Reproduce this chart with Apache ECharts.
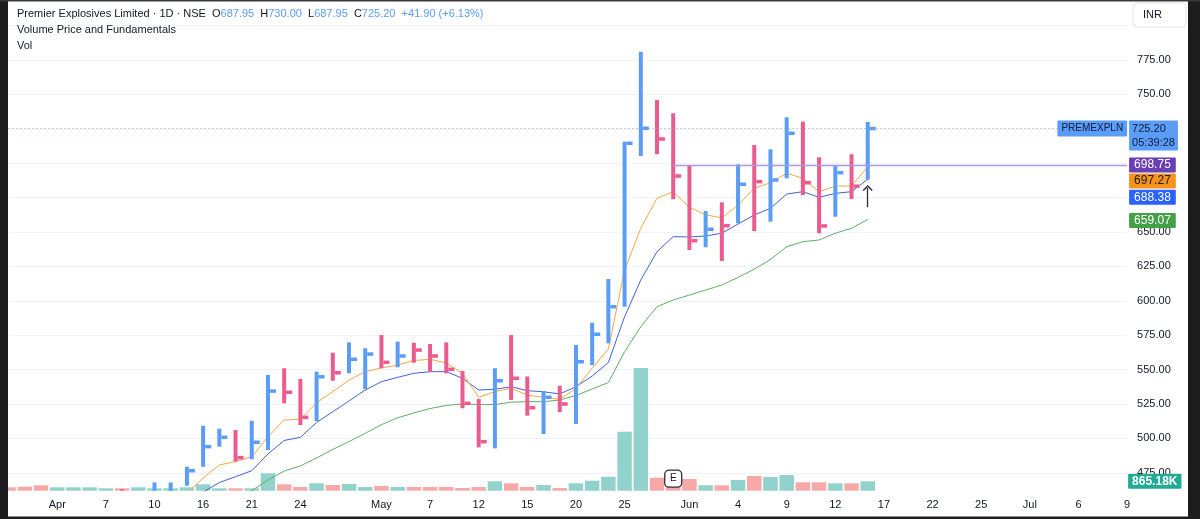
<!DOCTYPE html>
<html><head><meta charset="utf-8">
<script src="https://cdn.jsdelivr.net/npm/echarts@6/dist/echarts.min.js"></script>
<style>html,body{margin:0;padding:0;background:#fff;}#c{width:1200px;height:519px;}</style>
</head><body><div id="c"></div>
<script>
// ---------- data ----------
const dates = ['2026-03-27','2026-03-30','2026-03-31','2026-04-01','2026-04-02','2026-04-06','2026-04-07','2026-04-08','2026-04-09','2026-04-10',
 '2026-04-13','2026-04-15','2026-04-16','2026-04-17','2026-04-20','2026-04-21','2026-04-22','2026-04-23','2026-04-24','2026-04-27',
 '2026-04-28','2026-04-29','2026-04-30','2026-05-04','2026-05-05','2026-05-06','2026-05-07','2026-05-08','2026-05-11','2026-05-12',
 '2026-05-13','2026-05-14','2026-05-15','2026-05-18','2026-05-19','2026-05-20','2026-05-21','2026-05-22','2026-05-25','2026-05-26',
 '2026-05-28','2026-05-29','2026-06-01','2026-06-02','2026-06-03','2026-06-04','2026-06-05','2026-06-08','2026-06-09','2026-06-10',
 '2026-06-11','2026-06-12','2026-06-15','2026-06-16','2026-06-17','2026-06-18','2026-06-19','2026-06-22','2026-06-23','2026-06-24',
 '2026-06-25','2026-06-29','2026-06-30','2026-07-01','2026-07-02','2026-07-03','2026-07-06','2026-07-07','2026-07-08','2026-07-09'];
const opens  = [455,450,447,444,450,449,451,458,453,457, 459,467,482,496,500,488,498,540,533,516, 555,549,556,565,555,567,564,560,547,525,
 498,548,540,520,530,524,557,576,597,715, 730,720,690,645,660,658,695,680,692,720, 685,665,695,687.95];
const highs  = [457,455,452,454,456,455,457,463,459,468, 468,479.4,509.2,507.1,506.1,512.9,546.1,551,543.2,548.5, 562.3,569.8,565.5,575.1,570.3,569.5,568.6,569.8,549,528.6,
 551,575.1,545,534.4,538.3,567.9,584.1,615.8,715.6,781, 745.9,736.3,698,665.3,671.6,699.2,713.2,710.1,733.4,730.2, 704.3,698.2,706.5,730];
const lows   = [447,444,441,442,447,446,448,452,450,456, 457,465.6,479.4,494,483.1,484.8,491.6,525.5,509.7,512.6, 541.9,547.3,535.9,551,551.7,555,548.5,547.3,521.9,493.5,
 492.8,527.9,516.5,503.2,519,510.5,553.3,569.1,595.7,705.2, 706.5,673.8,636.9,638.9,628.9,656.3,650.7,657.5,689,676.9, 649,661.1,674,687.95];
const closes = [449,446,443,451,453,452,455,454,457,461, 461,476.5,494,500.8,486,497.2,534.4,533.5,515.3,544.8, 547.7,557.5,561.3,555.3,559.9,564.2,559.9,550.2,525.5,497.6,
 541.9,543.7,522.3,529.9,525,555.7,575.7,595.7,714.5,725.4, 717.6,690.7,643.7,652,654.6,684.7,686.6,687.8,721.7,685.8, 654.4,693.1,683.3,725.2];
// volume in thousands of shares
const volumes = [313,368,497,313,313,313,221,221,313,221, 221,313,589,221,221,221,1600,589,340,680, 524,616,340,432,340,340,340,340,248,340,
 865,680,340,524,248,680,920,1288,5428,11288, 1196,708,1076,497,497,984,1352,1260,1444,773, 773,680,680,865.18];
const N = null;
const maFast = [N,N,N,N,N,N,N,N,N,N, N,460,471.2,480.7,483.1,486.7,501.2,513.4,513.9,525.9, 534,542.4,548.5,551.2,553.3,556.6,557.5,554.8,547.3,529.9,
 534,536.4,531.5,529.9,528.4,536.4,551,565,622.4,652.7, 674.5,679.3,668,662.5,660.3,669.6,681.8,685.8,692.7,689, 679.3,683.4,683.4,697.27];
const maMid  = [N,N,N,N,N,N,N,N,N,N, N,N,461,467.9,472.2,476.5,488.7,498.5,500.8,511.6, 519.4,527.2,535.2,541.2,544.4,547.3,548.5,548.5,543.7,535.2,
 535.7,537.6,534.7,533.9,532.3,537.6,545.3,555.2,588.4,615.1, 635.7,646.6,646.4,647.1,649.1,655.8,662.4,667.2,677.6,679.3, 675.2,678.1,679.3,688.38];
const maSlow = [N,N,N,N,N,N,N,N,N,N, N,N,N,N,456,462,469.8,476.3,480,485.8, 492,497.7,503.7,510,515,518.5,521.7,524,525,524.6,
 524.6,526.3,526.7,526.7,527.9,531.2,535.9,540.6,563,581.2, 595.7,600.6,604.2,607.8,611.5,617,623,630,639.3,643, 644.2,649.1,652.7,659.07];
const tickDates = ['2026-04-01','2026-04-07','2026-04-10','2026-04-16','2026-04-21','2026-04-24','2026-05-04','2026-05-07','2026-05-12','2026-05-15','2026-05-20',
 '2026-05-25','2026-06-01','2026-06-04','2026-06-09','2026-06-12','2026-06-17','2026-06-22','2026-06-25','2026-07-01','2026-07-06','2026-07-09'];
const tickTexts = ['Apr','7','10','16','21','24','May','7','12','15','20','25','Jun','4','9','12','17','22','25','Jul','6','9'];
const levelValue = 698.75, levelStart = '2026-05-29';
const earningsDate = '2026-05-29';
const arrowDate = '2026-06-16', arrowFrom = 668, arrowTo = 682;
const symbolName = 'PREMEXPLN', countdown = '05:39:28';
const headerTitle = 'Premier Explosives Limited · 1D · NSE';

// ---------- chart ----------
const FONT = 'Liberation Sans, Arial, sans-serif';
const UP = '#5b9cf6', DOWN = '#ec5b8e', VUP = '#92d2cc', VDOWN = '#f7a9a7';
const TXT = '#131722';
const HIDDEN = 'rgba(0,0,0,0)';
const last = closes.length - 1;
const chg = closes[last] - closes[last - 1];
const pct = chg / closes[last - 1] * 100;
const tickMap = {}; tickDates.forEach((d, k) => tickMap[d] = tickTexts[k]);
const barData = closes.map((c, i) => [i, opens[i], highs[i], lows[i], c]);
const volData = volumes.map((v, i) => ({ value: v, itemStyle: { color: closes[i] >= opens[i] ? VUP : VDOWN } }));
const G = { left: 8.6, right: 72.9, outerBoundsMode: 'none', containLabel: false };

function renderBar(params, api) {
  const i = api.value(0);
  const o = api.value(1), h = api.value(2), l = api.value(3), c = api.value(4);
  const ph = api.coord([i, h]), pl = api.coord([i, l]), pc = api.coord([i, c]);
  const cs = params.coordSys;
  const top = Math.max(ph[1], cs.y), bot = Math.min(pl[1], cs.y + cs.height);
  if (bot <= top) return null;
  const color = c >= o ? UP : DOWN;
  const x = ph[0];
  const children = [{ type: 'rect', shape: { x: x - 2, y: top, width: 4, height: bot - top }, style: { fill: color } }];
  if (pc[1] >= cs.y && pc[1] <= cs.y + cs.height) {
    children.push({ type: 'rect', shape: { x: x + 2, y: pc[1] - 1.75, width: 6, height: 3.5 }, style: { fill: color } });
  }
  return { type: 'group', children };
}

function lastLabel(value, bg, fg, dy) {
  return {
    silent: true, symbol: 'none', animation: false,
    lineStyle: { color: HIDDEN, width: 0 },
    label: { show: true, position: 'end', distance: 2, formatter: value.toFixed(2), backgroundColor: bg, color: fg,
      padding: [1, 5], fontSize: 12, lineHeight: 13, fontFamily: FONT, offset: [0, dy], borderRadius: 1 },
    data: [{ yAxis: value }]
  };
}

const endDate = dates[dates.length - 1];
const option = {
  animation: false,
  backgroundColor: '#ffffff',
  grid: [
    Object.assign({ top: -8.8, bottom: 11.8 }, G),
    Object.assign({ top: -8.8, bottom: 28.3 }, G),
    Object.assign({ top: 350, bottom: 28.3 }, G)
  ],
  xAxis: [0, 1, 2].map(k => ({
    type: 'category', gridIndex: k, data: dates, boundaryGap: false,
    axisLine: { show: false }, axisTick: { show: false }, splitLine: { show: false },
    axisLabel: k === 2 ? { show: true, interval: 0, margin: 9, color: TXT, fontSize: 11, fontFamily: FONT,
      formatter: (v) => tickMap[v] || '' } : { show: false }
  })),
  yAxis: [
    { type: 'value', gridIndex: 0, position: 'right', min: 450, max: 825, interval: 25,
      axisLine: { show: false }, axisTick: { show: false },
      splitLine: { show: true, showMinLine: false, showMaxLine: false, lineStyle: { color: '#f0f3fa', width: 1 } },
      axisLabel: { margin: 10, color: TXT, fontSize: 11, fontFamily: FONT,
        formatter: (v) => (v < 470 || v > 780) ? '' : v.toFixed(2) } },
    { type: 'value', gridIndex: 1, position: 'right', min: 462, max: 825, show: false, splitLine: { show: false } },
    { type: 'value', gridIndex: 2, min: 0, max: 12950, show: false, splitLine: { show: false } }
  ],
  series: [
    {
      type: 'bar', name: 'Vol', xAxisIndex: 2, yAxisIndex: 2, data: volData, barWidth: 14.5, z: 1,
      markLine: {
        silent: true, symbol: 'none', animation: false, lineStyle: { color: HIDDEN, width: 0 },
        label: { show: true, position: 'end', distance: 1, formatter: (volumes[last]).toFixed(2) + 'K',
          backgroundColor: '#22ab94', color: '#fff', fontWeight: 'bold', fontSize: 12, lineHeight: 13,
          padding: [1, 4], fontFamily: FONT, borderRadius: 1 },
        data: [{ yAxis: volumes[last] }]
      },
      markPoint: {
        silent: true, animation: false,
        data: [{ coord: [earningsDate, 0], symbol: 'roundRect', symbolSize: [17, 17], symbolOffset: [0, -12],
          itemStyle: { color: '#ffffff', borderColor: '#2a2e39', borderWidth: 1.3 },
          label: { show: true, position: 'inside', formatter: 'E', color: TXT, fontSize: 10, fontFamily: FONT } }]
      }
    },
    {
      type: 'line', name: 'slow', xAxisIndex: 1, yAxisIndex: 1, data: maSlow, showSymbol: false, z: 3,
      lineStyle: { color: '#5fae64', width: 1 }, connectNulls: false,
      markLine: lastLabel(maSlow[last], '#43a047', '#ffffff', 1)
    },
    {
      type: 'line', name: 'mid', xAxisIndex: 1, yAxisIndex: 1, data: maMid, showSymbol: false, z: 3,
      lineStyle: { color: '#3f62d6', width: 1 },
      markLine: lastLabel(maMid[last], '#2962ff', '#ffffff', 18)
    },
    {
      type: 'line', name: 'fast', xAxisIndex: 1, yAxisIndex: 1, data: maFast, showSymbol: false, z: 3,
      lineStyle: { color: '#f5a742', width: 1 },
      markLine: lastLabel(maFast[last], '#f7931a', TXT, 14)
    },
    {
      type: 'custom', name: 'price', xAxisIndex: 1, yAxisIndex: 1, data: barData, renderItem: renderBar, z: 4,
      encode: { x: 0, y: [1, 2, 3, 4] },
      markLine: {
        silent: true, animation: false, symbol: 'none',
        data: [
          [{ coord: [levelStart, levelValue], lineStyle: { color: '#a99ae0', width: 1.3, type: 'solid' },
             label: { show: true, position: 'end', distance: 2, formatter: levelValue.toFixed(2), backgroundColor: '#6a3fb5',
               color: '#ffffff', padding: [1, 5], fontSize: 12, lineHeight: 13, fontFamily: FONT, borderRadius: 1 } },
           { coord: [endDate, levelValue] }],
          { yAxis: closes[last], lineStyle: { color: '#8d9bb3', width: 1, type: [1, 3] },
            label: { show: true, position: 'end', distance: 2, formatter: closes[last].toFixed(2) + '\n' + countdown,
              backgroundColor: '#5b9cf6', color: '#0d1b3e', padding: [1, 3], fontSize: 11, lineHeight: 14,
              fontFamily: FONT, offset: [0, 7], borderRadius: 1 } },
          { yAxis: closes[last], lineStyle: { color: HIDDEN, width: 0 },
            label: { show: true, position: 'insideEnd', distance: 0, formatter: symbolName,
              backgroundColor: '#5b9cf6', color: '#0d1b3e', padding: [2, 4], fontSize: 10, lineHeight: 12,
              fontFamily: FONT, verticalAlign: 'middle', offset: [0, 0], borderRadius: 1 } },
          [{ coord: [arrowDate, arrowFrom], lineStyle: { color: '#2a2e39', width: 1.3, type: 'solid' }, label: { show: false } },
           { coord: [arrowDate, arrowTo], symbol: 'path://M0,0 L5,5 L4,6 L0,2 L-4,6 L-5,5 Z', symbolSize: [10, 6] }]
        ]
      }
    }
  ],
  graphic: [
    { type: 'text', x: 17, y: 14, z: 50, style: {
        text: '{t|' + headerTitle + '}  {k|O}{v|' + opens[last].toFixed(2) + '}  {k|H}{v|' + highs[last].toFixed(2) +
          '}  {k|L}{v|' + lows[last].toFixed(2) + '}  {k|C}{v|' + closes[last].toFixed(2) + '}  {v|' +
          (chg >= 0 ? '+' : '') + chg.toFixed(2) + ' (' + (pct >= 0 ? '+' : '') + pct.toFixed(2) + '%)}',
        verticalAlign: 'middle', font: '11px ' + FONT,
        rich: { t: { fill: TXT, fontSize: 11, fontFamily: FONT }, k: { fill: TXT, fontSize: 11, fontFamily: FONT },
                v: { fill: '#5b9cf6', fontSize: 11, fontFamily: FONT } } } },
    { type: 'text', x: 17, y: 30, z: 50, style: { text: 'Volume Price and Fundamentals', fill: TXT, font: '11px ' + FONT, verticalAlign: 'middle' } },
    { type: 'text', x: 17, y: 46, z: 50, style: { text: 'Vol', fill: TXT, font: '11px ' + FONT, verticalAlign: 'middle' } },
    { type: 'rect', z: 50, shape: { x: 1133, y: 3, width: 53, height: 24, r: 4 }, style: { fill: '#ffffff', stroke: '#e0e3eb', lineWidth: 1 } },
    { type: 'text', z: 51, x: 1143, y: 15, style: { text: 'INR', fill: TXT, font: '11px ' + FONT, verticalAlign: 'middle' } },
    { type: 'rect', z: 60, shape: { x: 0, y: 0, width: 8, height: 519 }, style: { fill: '#1c1c1e' } },
    { type: 'rect', z: 60, shape: { x: 1188, y: 0, width: 12, height: 519 }, style: { fill: '#1c1c1e' } },
    { type: 'rect', z: 60, shape: { x: 0, y: 516.5, width: 1200, height: 3 }, style: { fill: '#1c1c1e' } },
    { type: 'rect', z: 60, shape: { x: 0, y: 0, width: 1200, height: 1.5 }, style: { fill: '#3a3a3c' } }
  ]
};
const chart = echarts.init(document.getElementById('c'));
chart.setOption(option);
</script>
</body></html>
